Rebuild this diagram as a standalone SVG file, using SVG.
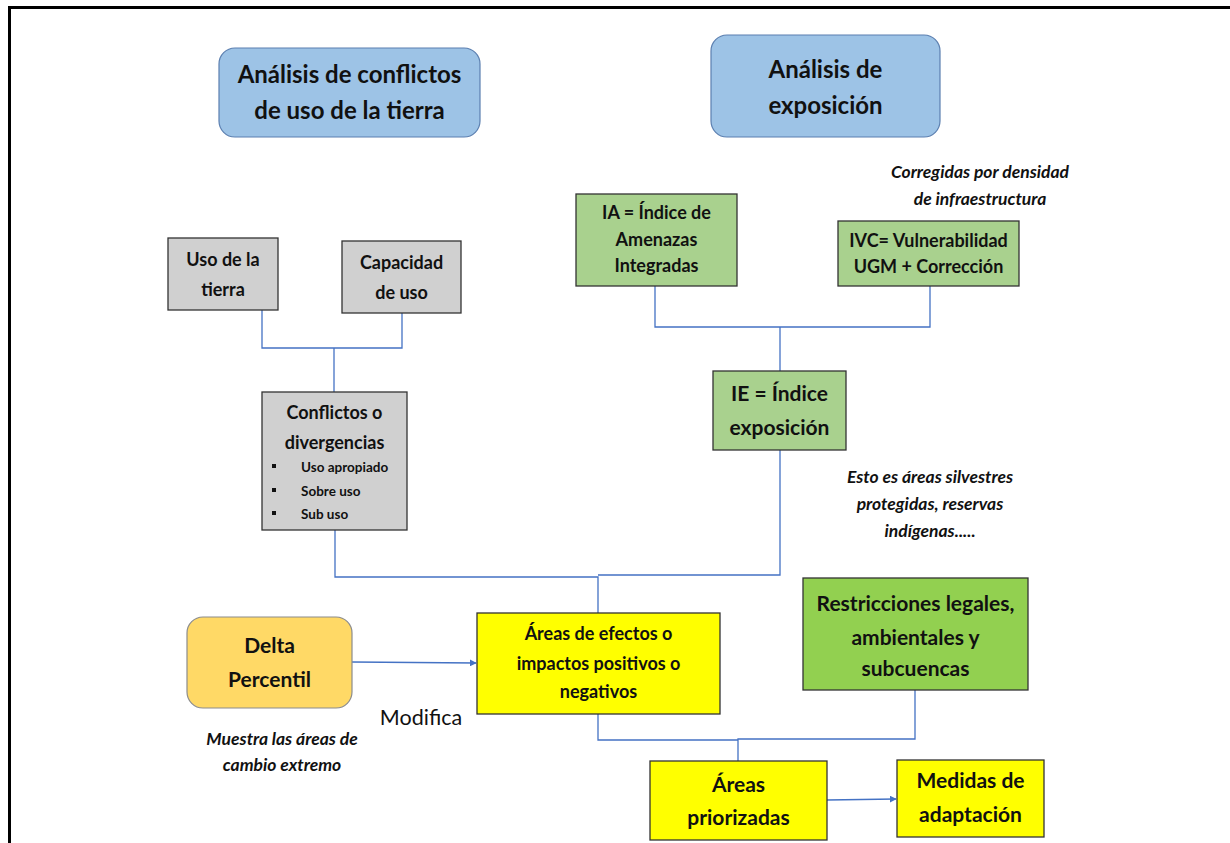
<svg xmlns="http://www.w3.org/2000/svg" width="1230" height="843" viewBox="0 0 1230 843">
<defs>
<style>
text{font-family:Lato,"Liberation Sans",sans-serif;fill:#111;text-anchor:middle}
.t{font-size:24px;font-weight:bold}
.m{font-size:18px;font-weight:bold}
.l{font-size:21px;font-weight:bold}
.s{font-size:13.5px;font-weight:bold;text-anchor:start}
.n{font-size:17.5px;font-weight:bold;font-style:italic}
.blue{fill:#9dc3e6;stroke:#5b7fb0;stroke-width:1.2}
.gray{fill:#d0d0d0;stroke:#333;stroke-width:1.3}
.green{fill:#a9d18e;stroke:#333;stroke-width:1.3}
.lgreen{fill:#92d050;stroke:#333;stroke-width:1.3}
.yel{fill:#ffff00;stroke:#333;stroke-width:1.3}
.org{fill:#ffd966;stroke:#8c8c8c;stroke-width:1.2}
.c{fill:none;stroke:#4472c4;stroke-width:1.3}
</style>
<marker id="ar" viewBox="0 0 10 10" refX="9" refY="5" markerWidth="7" markerHeight="7" orient="auto" markerUnits="userSpaceOnUse"><path d="M0,0 L10,5 L0,10 z" fill="#4472c4"/></marker>
</defs>
<rect x="0" y="0" width="1230" height="843" fill="#fff"/>
<path d="M9.5,843 V7.5 H1230" fill="none" stroke="#000" stroke-width="3"/>

<g id="connectors">
<path class="c" d="M262,307 V348 H402 V313"/>
<path class="c" d="M334,348 V392"/>
<path class="c" d="M655,286 V327 H930 V286"/>
<path class="c" d="M780,327 V371"/>
<path class="c" d="M335,530 V577 H598 V613"/>
<path class="c" d="M780,450 V575 H598"/>
<path class="c" d="M598,714 V740 H738"/>
<path class="c" d="M915,690 V739 H738 V762"/>
<path class="c" d="M352,662 L476,663" marker-end="url(#ar)"/>
<path class="c" d="M827,800 L896,799" marker-end="url(#ar)"/>
</g>

<g id="n-analisis-conflictos">
<rect class="blue" x="219" y="48" width="261" height="89" rx="16"/>
<text class="t" x="349.5" y="83">Análisis de conflictos</text>
<text class="t" x="349.5" y="119">de uso de la tierra</text>
</g>

<g id="n-analisis-exposicion">
<rect class="blue" x="711" y="35" width="229" height="102" rx="16"/>
<text class="t" x="825.5" y="78">Análisis de</text>
<text class="t" x="825.5" y="114">exposición</text>
</g>

<g id="n-uso-tierra">
<rect class="gray" x="168" y="238" width="110" height="72"/>
<text class="m" x="223" y="266">Uso de la</text>
<text class="m" x="223" y="296">tierra</text>
</g>

<g id="n-capacidad">
<rect class="gray" x="342" y="241" width="119" height="72"/>
<text class="m" x="401.5" y="269">Capacidad</text>
<text class="m" x="401.5" y="299">de uso</text>
</g>

<g id="n-conflictos">
<rect class="gray" x="262" y="392" width="145" height="138"/>
<text class="m" x="334.5" y="419">Conflictos o</text>
<text class="m" x="334.5" y="449">divergencias</text>
<rect x="272" y="464" width="4" height="4" fill="#111"/>
<rect x="272" y="488" width="4" height="4" fill="#111"/>
<rect x="272" y="511" width="4" height="4" fill="#111"/>
<text class="s" x="301" y="472">Uso apropiado</text>
<text class="s" x="301" y="496">Sobre uso</text>
<text class="s" x="301" y="519">Sub uso</text>
</g>

<g id="n-ia">
<rect class="green" x="576" y="194" width="161" height="92"/>
<text class="m" x="656.5" y="219">IA = Índice de</text>
<text class="m" x="656.5" y="246">Amenazas</text>
<text class="m" x="656.5" y="272">Integradas</text>
</g>

<g id="n-ivc">
<rect class="green" x="838" y="221" width="181" height="65"/>
<text class="m" x="928.5" y="247">IVC= Vulnerabilidad</text>
<text class="m" x="928.5" y="273">UGM + Corrección</text>
</g>

<g id="note-corregidas">
<text class="n" x="980" y="178">Corregidas por densidad</text>
<text class="n" x="980" y="205">de infraestructura</text>
</g>

<g id="n-ie">
<rect class="green" x="713" y="371" width="133" height="79"/>
<text class="l" x="779.5" y="401">IE = Índice</text>
<text class="l" x="779.5" y="435">exposición</text>
</g>

<g id="note-esto">
<text class="n" x="930" y="483">Esto es áreas silvestres</text>
<text class="n" x="930" y="510">protegidas, reservas</text>
<text class="n" x="930" y="537">indígenas.....</text>
</g>

<g id="n-delta">
<rect class="org" x="187" y="617" width="165" height="91" rx="16"/>
<text class="l" x="269.5" y="653">Delta</text>
<text class="l" x="269.5" y="687">Percentil</text>
</g>

<g id="label-modifica">
<text x="421" y="725" style="font-size:21.5px;font-weight:normal">Modifica</text>
</g>

<g id="note-muestra">
<text class="n" x="282" y="745">Muestra las áreas de</text>
<text class="n" x="282" y="771">cambio extremo</text>
</g>

<g id="n-areas-efectos">
<rect class="yel" x="477" y="613" width="243" height="101"/>
<text class="m" x="598.5" y="640">Áreas de efectos o</text>
<text class="m" x="598.5" y="670">impactos  positivos  o</text>
<text class="m" x="598.5" y="698">negativos</text>
</g>

<g id="n-restricciones">
<rect class="lgreen" x="803" y="578" width="225" height="112"/>
<text class="l" x="915.5" y="611">Restricciones legales,</text>
<text class="l" x="915.5" y="645">ambientales y</text>
<text class="l" x="915.5" y="676">subcuencas</text>
</g>

<g id="n-areas-priorizadas">
<rect class="yel" x="650" y="761" width="177" height="79"/>
<text class="l" x="738.5" y="792">Áreas</text>
<text class="l" x="738.5" y="825">priorizadas</text>
</g>

<g id="n-medidas">
<rect class="yel" x="897" y="760" width="147" height="77"/>
<text class="l" x="970.5" y="788">Medidas de</text>
<text class="l" x="970.5" y="822">adaptación</text>
</g>
</svg>
